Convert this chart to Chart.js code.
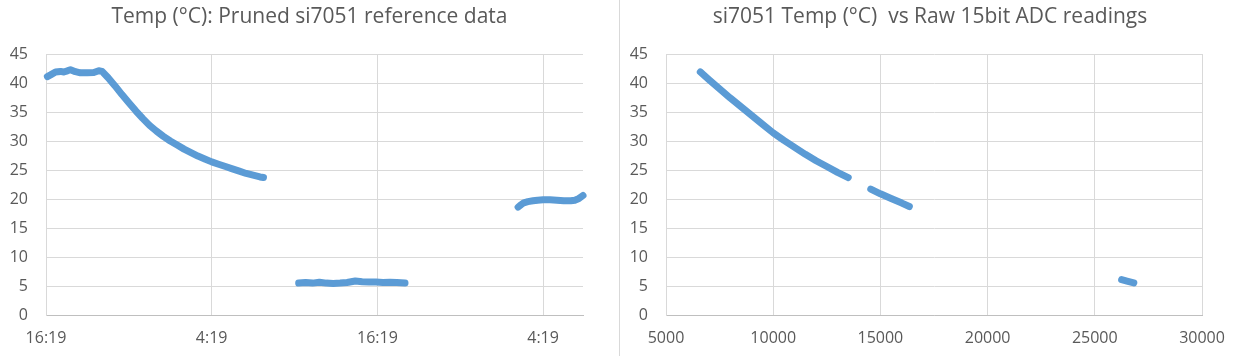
<!DOCTYPE html>
<html><head><meta charset="utf-8">
<script src="https://cdn.jsdelivr.net/npm/chart.js@4.4.1/dist/chart.umd.min.js"></script>
<style>
html,body{margin:0;padding:0;background:#fff;}
#wrap{position:relative;width:1240px;height:356px;overflow:hidden;background:#fff;}
#c1{position:absolute;left:0;top:0;}
#divider{position:absolute;left:619px;top:0;width:1px;height:356px;background:#D9D9D9;}
#c2{position:absolute;left:620px;top:0;}
</style></head><body>
<div id="wrap"><canvas id="c1" width="619" height="356"></canvas><div id="divider"></div><canvas id="c2" width="620" height="356"></canvas></div>
<script>
// ---- Left chart: temperature vs time (hours since 16:19) ----
const leftTitle = 'Temp (°C): Pruned si7051 reference data';
const leftTickLabels = ['16:19', '4:19', '16:19', '4:19'];
const leftSeg1Hours = [0.1,0.33,0.69,1.05,1.29,1.55,1.77,2.13,2.49,2.98,3.46,3.82,4.06,4.5,5.0,5.5,6.0,6.5,7.0,7.5,8.0,8.5,9.0,9.5,10.0,10.5,11.0,11.5,12.0,12.5,13.0,13.5,14.0,14.5,15.0,15.5,15.75];
const leftSeg1Temp  = [41.1,41.4,41.9,42.0,41.9,42.1,42.3,41.95,41.75,41.75,41.8,42.1,42.0,40.9,39.5,38.0,36.6,35.2,33.9,32.7,31.7,30.8,30.0,29.3,28.6,28.0,27.4,26.9,26.4,26.0,25.6,25.2,24.8,24.4,24.1,23.8,23.7];
const leftSeg2Hours = [18.3,18.8,19.3,19.8,20.3,20.8,21.3,21.8,22.4,22.9,23.4,23.9,24.4,24.9,25.4,26.0];
const leftSeg2Temp  = [5.5,5.6,5.5,5.65,5.5,5.45,5.5,5.6,5.85,5.75,5.7,5.7,5.6,5.65,5.6,5.5];
const leftSeg3Hours = [34.19,34.4,34.6,34.9,35.27,35.6,36.0,36.5,37.0,37.5,38.0,38.3,38.6,38.89];
const leftSeg3Temp  = [18.6,19.0,19.35,19.55,19.7,19.8,19.85,19.85,19.8,19.7,19.7,19.8,20.1,20.6];

// ---- Right chart: temperature vs raw ADC ----
const rightTitle = 'si7051 Temp (°C)  vs Raw 15bit ADC readings';
const rightTickLabels = ['5000','10000','15000','20000','25000','30000'];
const rightSeg1Adc  = [6600,7000,7500,8000,8500,9000,9500,10000,10500,11000,11500,12000,12500,13000,13500];
const rightSeg1Temp = [41.9,40.6,39.0,37.4,35.9,34.4,32.9,31.4,30.1,28.9,27.7,26.6,25.6,24.6,23.7];
const rightSeg2Adc  = [14550,15000,15500,16000,16350];
const rightSeg2Temp = [21.7,20.9,20.1,19.3,18.7];
const rightSeg3Adc  = [26250,26500,26820];
const rightSeg3Temp = [6.1,5.85,5.55];

const yTickLabels = ['0','5','10','15','20','25','30','35','40','45'];

const BLUE = '#5B9BD5';
const TEXT = '#595959';
const GRID = '#D9D9D9';
const FONT = "'Open Sans', sans-serif";

function seg(xs, ys) {
  return {
    data: xs.map((x, i) => ({x: x, y: ys[i]})),
    showLine: true,
    borderColor: BLUE,
    backgroundColor: BLUE,
    borderWidth: 7,
    borderCapStyle: 'round',
    borderJoinStyle: 'round',
    pointRadius: 0,
    pointHoverRadius: 0,
    tension: 0,
    clip: false
  };
}

function options(title, xScale, rightGap) {
  const scales = {
    x: Object.assign({
      type: 'linear',
      afterFit: s => { s.height = 41; },
      grid: {color: GRID, lineWidth: 1, drawTicks: false},
      border: {color: '#BFBFBF', width: 1}
    }, xScale),
    y: {
      type: 'linear',
      position: 'left',
      min: 0, max: 45,
      afterFit: s => { s.width = 46; },
      grid: {color: GRID, lineWidth: 1, drawTicks: false},
      border: {color: GRID, width: 1},
      ticks: {
        stepSize: 5,
        padding: 18,
        color: TEXT,
        font: {family: FONT, size: 16},
        callback: v => yTickLabels[Math.round(v / 5)]
      }
    },
    // empty spacer on the right so the title stays centred on the whole panel
    gap: {
      type: 'linear',
      position: 'right',
      min: 0, max: 1,
      afterFit: s => { s.width = rightGap; },
      grid: {display: false, drawTicks: false},
      border: {display: false},
      ticks: {display: false}
    }
  };
  return {
    responsive: false,
    animation: false,
    events: [],
    layout: {padding: 0},
    plugins: {
      legend: {display: false},
      tooltip: {enabled: false},
      title: {
        display: true,
        text: title,
        color: TEXT,
        font: {family: FONT, size: 21, weight: 'normal', lineHeight: 1.2},
        padding: {top: 4, bottom: 24.8}
      }
    },
    scales: scales
  };
}

new Chart(document.getElementById('c1'), {
  type: 'scatter',
  data: {datasets: [seg(leftSeg1Hours, leftSeg1Temp), seg(leftSeg2Hours, leftSeg2Temp), seg(leftSeg3Hours, leftSeg3Temp)]},
  options: options(leftTitle, {
    min: 0, max: 38.89,
    ticks: {
      stepSize: 12, includeBounds: false, padding: 14, maxRotation: 0,
      color: TEXT, font: {family: FONT, size: 16},
      callback: v => leftTickLabels[Math.round(v / 12)]
    }
  }, 36)
});

new Chart(document.getElementById('c2'), {
  type: 'scatter',
  data: {datasets: [seg(rightSeg1Adc, rightSeg1Temp), seg(rightSeg2Adc, rightSeg2Temp), seg(rightSeg3Adc, rightSeg3Temp)]},
  options: options(rightTitle, {
    min: 5000, max: 30000,
    ticks: {
      stepSize: 5000, padding: 14, maxRotation: 0,
      color: TEXT, font: {family: FONT, size: 16},
      callback: v => rightTickLabels[Math.round((v - 5000) / 5000)]
    }
  }, 38)
});
</script>
</body></html>
